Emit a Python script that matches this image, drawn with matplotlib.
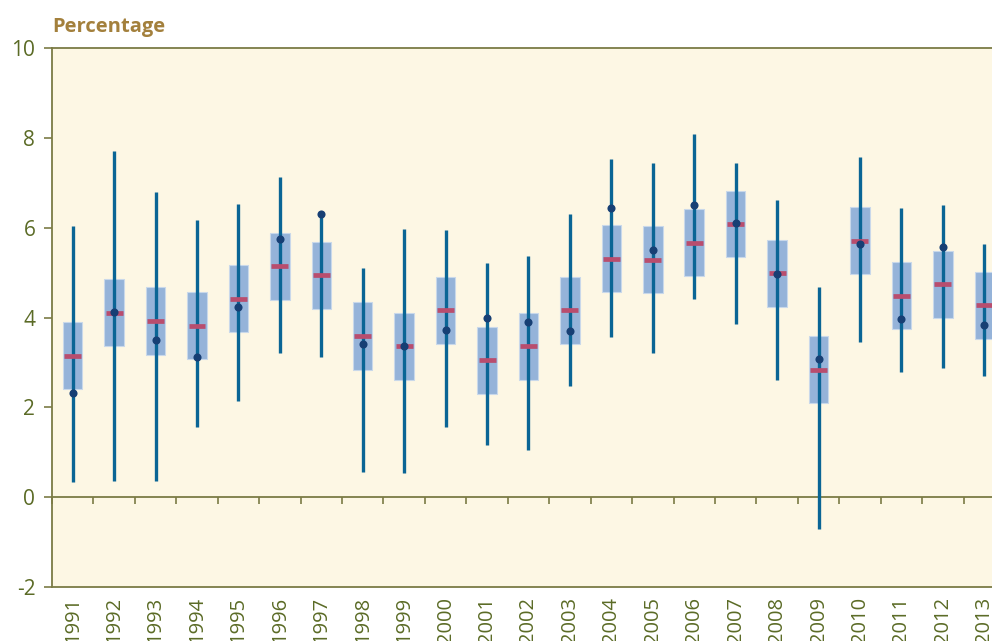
import matplotlib
matplotlib.use("Agg")
import matplotlib.pyplot as plt
import numpy as np

years = [str(y) for y in range(1991, 2014)]

# whisker range (min / max)
low = [0.33, 0.35, 0.35, 1.57, 2.14, 3.21, 3.11, 0.56, 0.53, 1.57, 1.17, 1.05,
       2.48, 3.56, 3.20, 4.41, 3.85, 2.61, -0.71, 3.45, 2.78, 2.88, 2.69]
high = [6.04, 7.71, 6.79, 6.16, 6.53, 7.13, 6.30, 5.10, 5.97, 5.95, 5.22, 5.38,
        6.30, 7.52, 7.43, 8.08, 7.45, 6.61, 4.68, 7.57, 6.44, 6.51, 5.64]
# box range
box_lo = [2.41, 3.36, 3.17, 3.08, 3.67, 4.39, 4.20, 2.84, 2.61, 3.41, 2.30, 2.61,
          3.41, 4.56, 4.54, 4.92, 5.34, 4.23, 2.09, 4.96, 3.74, 4.00, 3.53]
box_hi = [3.89, 4.85, 4.67, 4.57, 5.16, 5.88, 5.69, 4.34, 4.11, 4.90, 3.79, 4.11,
          4.90, 6.05, 6.03, 6.41, 6.82, 5.72, 3.59, 6.45, 5.23, 5.49, 5.02]
# mean forecast (pink bar)
mean = [3.15, 4.11, 3.92, 3.82, 4.42, 5.14, 4.95, 3.59, 3.36, 4.16, 3.05, 3.36,
        4.16, 5.31, 5.29, 5.66, 6.08, 4.98, 2.84, 5.71, 4.48, 4.74, 4.28]
# actual outcome (dot)
actual = [2.31, 4.12, 3.51, 3.11, 4.23, 5.74, 6.30, 3.41, 3.36, 3.72, 4.00, 3.91,
          3.70, 6.44, 5.51, 6.50, 6.10, 4.97, 3.07, 5.63, 3.96, 5.58, 3.84]

olive = "#7b7b45"
label_col = "#5b6b26"
plt.rcParams["font.family"] = ["Open Sans", "DejaVu Sans"]
plt.rcParams["axes.unicode_minus"] = False

fig = plt.figure(figsize=(9.92, 6.41), dpi=100)
ax = fig.add_axes([0.0524, 0.0842, 0.9607, 0.8409])
ax.set_facecolor("#fdf7e4")

x = np.arange(len(years))
ax.bar(x, np.array(box_hi) - np.array(box_lo), bottom=box_lo, width=0.47,
       color="#95b3d9", edgecolor="#c9d8ea", linewidth=0.8, zorder=2)
ax.vlines(x, low, high, color="#0a6595", linewidth=2.4, zorder=3)
ax.hlines(mean, x - 0.205, x + 0.205, color="#b94d6e", linewidth=3.4, zorder=4)
ax.scatter(x, actual, s=34, color="#173f74", zorder=5, linewidths=0)

ax.set_xlim(-0.5, len(years) - 0.5)
ax.set_ylim(-2, 10)
ax.set_yticks(range(-2, 11, 2))
ax.set_xticks(x)
ax.set_xticklabels(years, rotation=90)
ax.tick_params(axis="x", length=0, pad=7, labelsize=14.5, labelcolor=label_col)
ax.tick_params(axis="y", length=6, width=1.2, color=olive, pad=6,
               labelsize=15, labelcolor=label_col)
for s in ax.spines.values():
    s.set_color(olive)
    s.set_linewidth(1.3)

# zero line with the category ticks
zero = ax.secondary_xaxis(1 / 6)
zero.set_xticks(np.arange(len(years) + 1) - 0.5)
zero.set_xticklabels([])
zero.tick_params(length=5, width=1.2, color=olive, direction="out")
zero.spines["bottom"].set_color(olive)
zero.spines["bottom"].set_linewidth(1.3)

fig.text(0.0524, 0.95, "Percentage", fontsize=14.5, fontweight="bold",
         color="#a3803c", va="baseline", ha="left")

fig.savefig("out.png", dpi=100)
